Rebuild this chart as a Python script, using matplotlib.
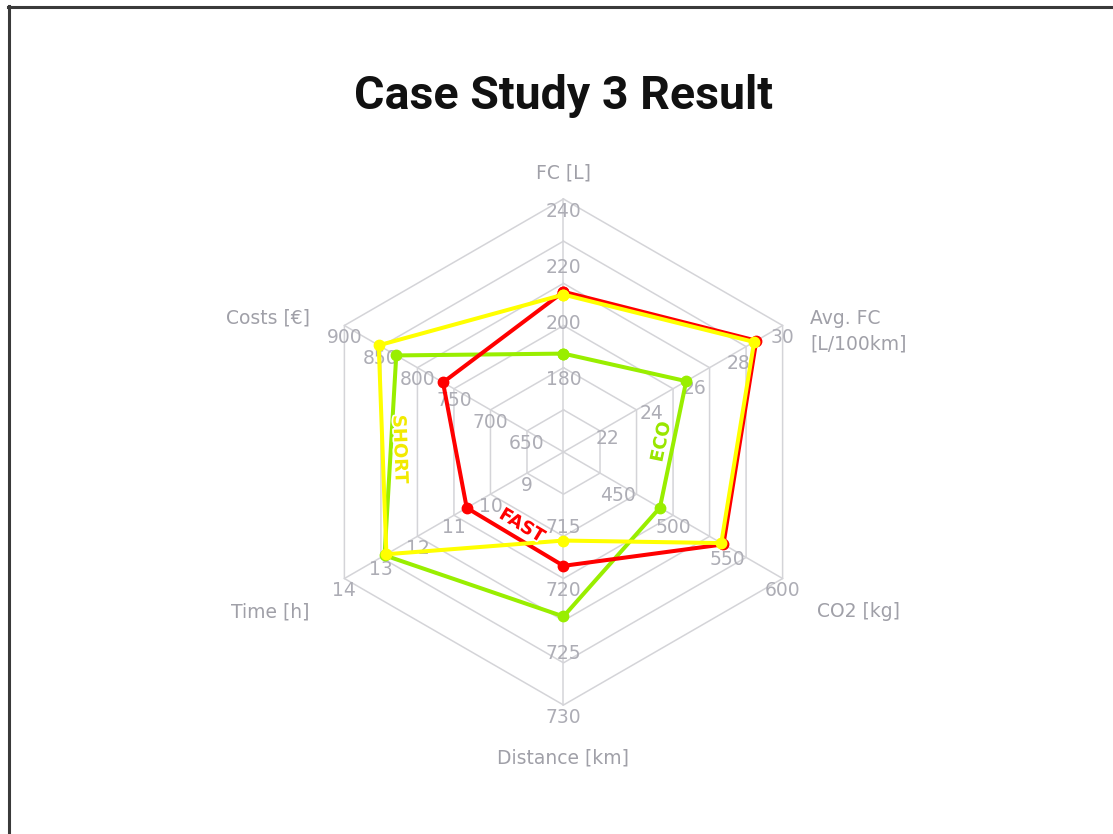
import numpy as np
import matplotlib
matplotlib.use("Agg")
import matplotlib.pyplot as plt
from matplotlib.lines import Line2D
import matplotlib.patheffects as pe

plt.rcParams['font.family'] = ['DejaVu Sans']

# ---------------- data ----------------
axis_names = ["FC [L]", "Avg. FC\n[L/100km]", "CO2 [kg]", "Distance [km]", "Time [h]", "Costs [€]"]
axis_min = [150, 20, 400, 710, 8, 600]
axis_max = [240, 30, 600, 730, 14, 900]
axis_ticks = [
    [180, 200, 220, 240],
    [22, 24, 26, 28, 30],
    [450, 500, 550, 600],
    [715, 720, 725, 730],
    [9, 10, 11, 12, 13, 14],
    [650, 700, 750, 800, 850, 900],
]
series_names = ["ECO", "FAST", "SHORT"]
eco = [185, 25.6, 488, 723, 12.9, 829]
fast = [207, 28.8, 546, 719, 10.65, 765]
short = [206, 28.7, 544, 717, 12.85, 853]
series_values = [eco, fast, short]
series_colors = ["#99ee00", "#ff0000", "#ffff00"]
label_text_colors = ["#99e600", "#ff0000", "#f2ea00"]

# ---------------- layout ----------------
W, H = 1113, 834
CX, CY, R = 563.5, 452.0, 253.0
n_rings = 6
angles = np.deg2rad([90, 30, -30, -90, -150, 150])

fig = plt.figure(figsize=(W / 100, H / 100), dpi=100)
ax = fig.add_axes([0, 0, 1, 1])
ax.set_xlim(-CX / R, (W - CX) / R)
ax.set_ylim(-(H - CY) / R, CY / R)
ax.axis("off")

grid_col = "#d4d4d8"
tick_col = "#adadb5"
name_col = "#a0a0a8"

# grid rings
for k in range(1, n_rings + 1):
    r = k / n_rings
    xs = np.append(r * np.cos(angles), r * np.cos(angles[0]))
    ys = np.append(r * np.sin(angles), r * np.sin(angles[0]))
    ax.plot(xs, ys, color=grid_col, lw=1.1, zorder=1)
# spokes
for a in angles:
    ax.plot([0, np.cos(a)], [0, np.sin(a)], color=grid_col, lw=1.1, zorder=1)

def norm(i, v):
    return (v - axis_min[i]) / (axis_max[i] - axis_min[i])

# tick labels
for i, a in enumerate(angles):
    for t in axis_ticks[i]:
        r = norm(i, t)
        ax.annotate(str(t), (r * np.cos(a), r * np.sin(a)), xytext=(0, -8.8),
                    textcoords="offset points", ha="center", va="center",
                    fontsize=13.5, color=tick_col, zorder=2)

# axis names
name_offsets = [(0, 19), (20, -4), (25, -24), (0, -38), (-25, -24), (-25, 5.4)]
name_ha = ["center", "left", "left", "center", "right", "right"]
for i, a in enumerate(angles):
    ax.annotate(axis_names[i], (np.cos(a), np.sin(a)), xytext=name_offsets[i],
                textcoords="offset points", ha=name_ha[i], va="center",
                fontsize=13.5, color=name_col, linespacing=1.4, zorder=2)

# series
pts = {}
for s, vals in enumerate(series_values):
    rs = np.array([norm(i, v) for i, v in enumerate(vals)])
    xs = rs * np.cos(angles)
    ys = rs * np.sin(angles)
    pts[s] = (xs, ys)
    ax.plot(np.append(xs, xs[0]), np.append(ys, ys[0]), color=series_colors[s],
            lw=2.9, marker="o", markersize=7.5, zorder=3 + s, solid_joinstyle="round")

# series labels along segments
def seg_label(s, i, j, text, off_px):
    xs, ys = pts[s]
    x0, y0, x1, y1 = xs[i], ys[i], xs[j], ys[j]
    mx, my = (x0 + x1) / 2, (y0 + y1) / 2
    ang = np.degrees(np.arctan2(y1 - y0, x1 - x0))
    if ang > 90:
        ang -= 180
    if ang <= -90:
        ang += 180
    dx, dy = x1 - x0, y1 - y0
    L = np.hypot(dx, dy)
    nx, ny = -dy / L, dx / L
    if nx * (-mx) + ny * (-my) < 0:
        nx, ny = -nx, -ny
    off = off_px / R
    ax.text(mx + nx * off, my + ny * off, text, rotation=ang, rotation_mode="anchor",
            ha="center", va="center", fontsize=13, fontweight="semibold",
            color=label_text_colors[s], zorder=8,
            path_effects=[pe.withStroke(linewidth=2.5, foreground="white")])

seg_label(1, 4, 3, "FAST", 13)
seg_label(0, 2, 1, "ECO", 12)
seg_label(2, 5, 4, "SHORT", 17)

# title
fig.text(564 / W, 1 - 108.5 / H, "Case Study 3 Result", ha="center", va="baseline",
         fontsize=33.5, fontweight="bold", color="#111111", family=["Roboto", "DejaVu Sans"])

# frame lines (left and top)
fig.add_artist(Line2D([9 / W, 9 / W], [0, 1 - 6 / H], transform=fig.transFigure,
                      color="#3a3a3a", lw=2.2))
fig.add_artist(Line2D([8 / W, 1], [1 - 6.5 / H, 1 - 6.5 / H], transform=fig.transFigure,
                      color="#3a3a3a", lw=2.2))

fig.savefig("out.png", dpi=100, facecolor="white")
